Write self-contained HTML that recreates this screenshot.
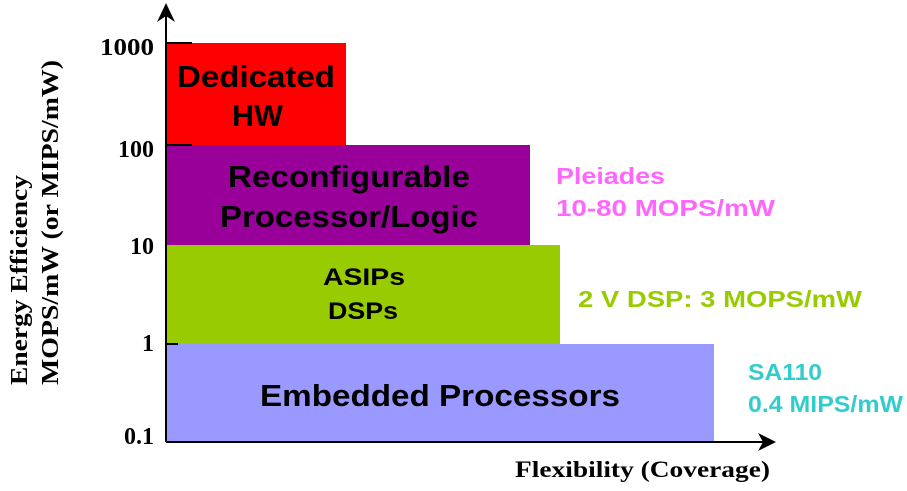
<!DOCTYPE html>
<html><head><style>body{margin:0;background:#fff}</style></head><body>
<svg width="907" height="486" xmlns="http://www.w3.org/2000/svg">
<rect x="166" y="43" width="180" height="102" fill="#ff0000"/>
<rect x="166" y="145" width="364" height="100" fill="#990099"/>
<rect x="166" y="245" width="394" height="99" fill="#99cc00"/>
<rect x="166" y="344" width="548" height="98" fill="#9999ff"/>
<g stroke="#000" stroke-width="2">
<line x1="166" y1="442" x2="166" y2="12"/>
<line x1="166" y1="442" x2="765" y2="442"/>
<line x1="166" y1="43" x2="192" y2="43"/>
<line x1="166" y1="145" x2="192" y2="145"/>
<line x1="166" y1="344" x2="178" y2="344"/>
</g>
<polygon points="166,3 157,22 166,16 175,22" fill="#000"/>
<polygon points="776,442 758,433 763,442 758,451" fill="#000"/>
<g font-family="Liberation Serif, serif" font-weight="bold" font-size="24" text-anchor="end">
<text x="154" y="55" textLength="54" lengthAdjust="spacingAndGlyphs">1000</text>
<text x="154" y="157">100</text>
<text x="154" y="254">10</text>
<text x="154" y="351">1</text>
<text x="154" y="444">0.1</text>
</g>
<text x="515" y="477" font-family="Liberation Serif, serif" font-weight="bold" font-size="23" textLength="255" lengthAdjust="spacingAndGlyphs">Flexibility (Coverage)</text>
<g font-family="Liberation Serif, serif" font-weight="bold" font-size="24">
<text transform="translate(27,385) rotate(-90)" textLength="210" lengthAdjust="spacingAndGlyphs">Energy Efficiency</text>
<text transform="translate(58,385) rotate(-90)" textLength="325" lengthAdjust="spacingAndGlyphs">MOPS/mW (or MIPS/mW)</text>
</g>
<g font-family="Liberation Sans, sans-serif" font-weight="bold" font-size="31" fill="#000" lengthAdjust="spacingAndGlyphs">
<text x="177" y="87" textLength="158" lengthAdjust="spacingAndGlyphs">Dedicated</text>
<text x="232" y="126" textLength="51" lengthAdjust="spacingAndGlyphs">HW</text>
<text x="228" y="187" textLength="242" lengthAdjust="spacingAndGlyphs">Reconfigurable</text>
<text x="220" y="227" textLength="258" lengthAdjust="spacingAndGlyphs">Processor/Logic</text>
<text x="323" y="285" font-size="24" textLength="82" lengthAdjust="spacingAndGlyphs">ASIPs</text>
<text x="328" y="319" font-size="24" textLength="70" lengthAdjust="spacingAndGlyphs">DSPs</text>
<text x="260" y="406" textLength="360" lengthAdjust="spacingAndGlyphs">Embedded Processors</text>
</g>
<g font-family="Liberation Sans, sans-serif" font-weight="bold" font-size="23">
<text x="556" y="184" fill="#ff66ff" textLength="109" lengthAdjust="spacingAndGlyphs">Pleiades</text>
<text x="556" y="216" fill="#ff66ff" textLength="219" lengthAdjust="spacingAndGlyphs">10-80 MOPS/mW</text>
<text x="578" y="307" fill="#99cc00" textLength="284" lengthAdjust="spacingAndGlyphs">2 V DSP: 3 MOPS/mW</text>
<text x="748" y="380" fill="#33cccc" textLength="74" lengthAdjust="spacingAndGlyphs">SA110</text>
<text x="748" y="412" fill="#33cccc" textLength="155" lengthAdjust="spacingAndGlyphs">0.4 MIPS/mW</text>
</g>
</svg>
</body></html>
